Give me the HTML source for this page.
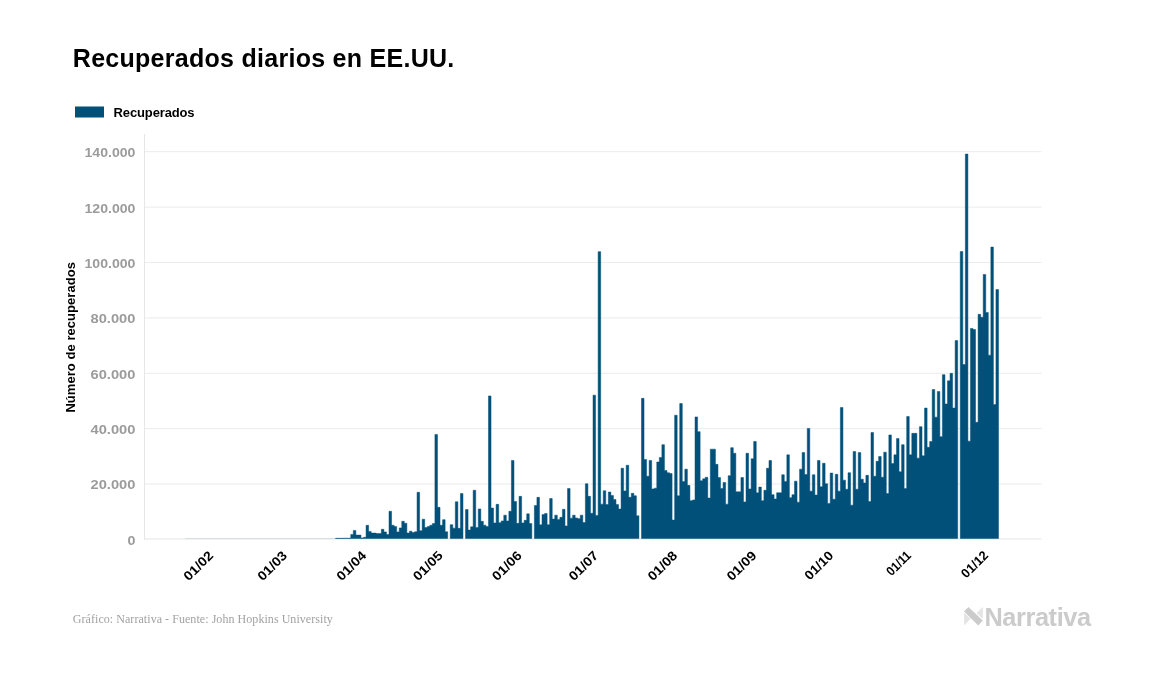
<!DOCTYPE html>
<html lang="es">
<head>
<meta charset="utf-8">
<title>Recuperados diarios en EE.UU.</title>
<style>
html,body{margin:0;padding:0;background:#fff;}
body{width:1157px;height:674px;overflow:hidden;font-family:"Liberation Sans",sans-serif;}
svg{display:block;}
.title{font:bold 25px "Liberation Sans",sans-serif;fill:#000;}
.legend{font:bold 13px "Liberation Sans",sans-serif;fill:#000;}
.ylab text{font:bold 13px "Liberation Sans",sans-serif;fill:#9b9b9b;}
.xlab text{font:bold 13px "Liberation Sans",sans-serif;fill:#000;}
.ytitle{font:bold 13px "Liberation Sans",sans-serif;fill:#000;}
.foot{font:12px "Liberation Serif",serif;fill:#a2a2a2;}
.logo{font:bold 25.3px "Liberation Sans",sans-serif;fill:#cbcbcb;}
</style>
</head>
<body>
<svg width="1157" height="674" viewBox="0 0 1157 674">
<rect width="1157" height="674" fill="#fff"/>
<text class="title" x="72.8" y="67.3" textLength="381.5" lengthAdjust="spacing">Recuperados diarios en EE.UU.</text>
<rect x="75" y="106.5" width="29" height="11" fill="#00507a"/>
<text class="legend" x="113.6" y="116.5" textLength="81" lengthAdjust="spacing">Recuperados</text>
<g class="grid">
<rect x="145" y="483.5" width="896.5" height="1" fill="#ececec"/>
<rect x="145" y="428.1" width="896.5" height="1" fill="#ececec"/>
<rect x="145" y="372.8" width="896.5" height="1" fill="#ececec"/>
<rect x="145" y="317.4" width="896.5" height="1" fill="#ececec"/>
<rect x="145" y="262.0" width="896.5" height="1" fill="#ececec"/>
<rect x="145" y="206.6" width="896.5" height="1" fill="#ececec"/>
<rect x="145" y="151.2" width="896.5" height="1" fill="#ececec"/>
<rect x="144" y="134" width="1" height="406" fill="#e6e6e6"/>
<rect x="144" y="538.5" width="897.5" height="1" fill="#e6e6e6"/>
</g>
<g class="ylab">
<text transform="translate(135.4,544.8) scale(1.1,1)" text-anchor="end">0</text>
<text transform="translate(135.4,489.4) scale(1.13,1)" text-anchor="end">20.000</text>
<text transform="translate(135.4,434.0) scale(1.13,1)" text-anchor="end">40.000</text>
<text transform="translate(135.4,378.7) scale(1.13,1)" text-anchor="end">60.000</text>
<text transform="translate(135.4,323.3) scale(1.13,1)" text-anchor="end">80.000</text>
<text transform="translate(135.4,267.9) scale(1.085,1)" text-anchor="end">100.000</text>
<text transform="translate(135.4,212.5) scale(1.085,1)" text-anchor="end">120.000</text>
<text transform="translate(135.4,157.1) scale(1.085,1)" text-anchor="end">140.000</text>
</g>
<text class="ytitle" transform="translate(75,412.6) rotate(-90)" textLength="150.5" lengthAdjust="spacing">Número de recuperados</text>
<rect x="185" y="538" width="150" height="0.8" fill="#cddae2"/>
<g fill="#00507a" stroke="#00507a" stroke-width="0.5" stroke-linejoin="miter">
<path d="M335.46,538.50V538.30H338.01V538.30H340.56V538.30H343.11V538.20H345.66V538.20H348.21V538.20H350.76V534.40H353.31V530.40H355.86V535.10H358.41V535.10H360.96V537.90H363.51V537.30H366.06V525.30H368.61V531.40H371.16V533.10H373.71V533.10H376.26V533.60H378.81V533.60H381.36V529.30H383.91V531.90H386.46V534.50H389.01V511.30H391.56V525.30H394.11V526.50H396.66V531.90H399.21V527.90H401.76V521.30H404.31V523.30H406.86V533.10H409.41V531.20H411.96V532.50H414.51V531.80H417.06V492.30H419.61V530.70H422.16V519.20H424.71V527.50H427.26V526.50H429.82V525.25H432.37V523.55H434.92V434.45H437.47V507.35H440.02V525.25H442.57V519.65H445.12V531.75H447.67V538.50Z"/>
<path d="M450.22,538.50V524.65H452.77V528.15H455.32V501.75H457.87V528.35H460.42V493.55H462.97V538.50Z"/>
<path d="M465.52,538.50V509.55H468.07V530.05H470.62V526.85H473.17V490.25H475.72V527.45H478.27V508.95H480.82V521.35H483.37V525.15H485.92V526.45H488.47V395.95H491.02V508.05H493.57V522.95H496.12V504.35H498.67V522.65H501.22V520.95H503.77V515.15H506.32V520.95H508.87V511.25H511.42V460.45H513.97V501.55H516.52V523.35H519.07V496.35H521.62V522.95H524.17V520.35H526.72V513.85H529.27V523.55H531.82V538.50Z"/>
<path d="M534.37,538.50V505.45H536.92V497.35H539.47V524.85H542.02V514.55H544.57V513.45H547.12V524.65H549.67V498.55H552.22V519.05H554.77V515.15H557.32V519.45H559.87V517.35H562.42V509.35H564.97V525.95H567.52V488.55H570.07V518.15H572.62V515.15H575.17V518.05H577.72V518.65H580.27V515.15H582.82V522.55H585.37V483.75H587.92V496.35H590.47V513.25H593.03V395.15H595.58V515.45H598.13V251.65H600.68V504.15H603.23V490.75H605.78V504.55H608.33V492.05H610.88V495.45H613.43V499.55H615.98V504.55H618.53V509.05H621.08V468.25H623.63V490.95H626.18V465.25H628.73V497.35H631.28V493.35H633.83V495.75H636.38V515.75H638.93V538.50Z"/>
<path d="M641.48,538.50V398.35H644.03V459.45H646.58V476.25H649.13V460.45H651.68V488.95H654.23V488.15H656.78V461.95H659.33V457.45H661.88V444.65H664.43V470.45H666.98V472.75H669.53V473.45H672.08V520.05H674.63V415.25H677.18V495.75H679.73V403.55H682.28V481.45H684.83V469.15H687.38V485.35H689.93V500.65H692.48V499.95H695.03V416.95H697.58V431.65H700.13V480.75H702.68V478.85H705.23V477.25H707.78V498.05H710.33V449.15H712.88V449.15H715.43V464.35H717.98V477.55H720.53V488.55H723.08V482.45H725.63V504.15H728.18V475.65H730.73V447.65H733.28V453.25H735.83V491.85H738.38V491.85H740.93V477.55H743.48V501.95H746.03V453.25H748.58V488.95H751.13V458.75H753.68V441.45H756.24V492.85H758.79V487.05H761.34V500.65H763.89V490.25H766.44V468.25H768.99V460.45H771.54V494.65H774.09V498.95H776.64V492.75H779.19V492.75H781.74V474.75H784.29V481.45H786.84V454.85H789.39V497.65H791.94V494.65H794.49V481.15H797.04V502.15H799.59V469.15H802.14V452.55H804.69V474.55H807.24V428.45H809.79V491.15H812.34V474.75H814.89V495.05H817.44V460.45H819.99V486.65H822.54V463.25H825.09V483.75H827.64V503.45H830.19V473.05H832.74V499.25H835.29V474.35H837.84V491.15H840.39V407.45H842.94V480.15H845.49V489.25H848.04V472.75H850.59V505.15H853.14V451.55H855.69V489.25H858.24V452.55H860.79V479.25H863.34V482.95H865.89V475.35H868.44V501.55H870.99V432.45H873.54V476.25H876.09V461.35H878.64V456.55H881.19V477.25H883.74V452.15H886.29V493.55H888.84V434.95H891.39V463.55H893.94V454.85H896.49V438.55H899.04V471.75H901.59V444.65H904.14V488.55H906.69V416.55H909.24V454.75H911.79V433.35H914.34V433.35H916.89V458.15H919.45V426.65H922.00V455.75H924.55V408.05H927.10V447.35H929.65V441.45H932.20V389.55H934.75V417.15H937.30V391.45H939.85V436.65H942.40V374.65H944.95V403.95H947.50V380.85H950.05V373.35H952.60V408.05H955.15V340.55H957.70V538.50Z"/>
<path d="M960.25,538.50V251.55H962.80V364.55H965.35V154.05H967.90V441.15H970.45V328.45H973.00V329.55H975.55V422.35H978.10V314.35H980.65V317.25H983.20V274.45H985.75V312.45H988.30V355.15H990.85V247.05H993.40V404.55H995.95V289.55H998.50V538.50Z"/>
</g>
<g class="xlab">
<text transform="translate(214.1,556.3) rotate(-45) scale(1.1,1)" text-anchor="end">01/02</text>
<text transform="translate(288.0,556.3) rotate(-45) scale(1.1,1)" text-anchor="end">01/03</text>
<text transform="translate(367.1,556.3) rotate(-45) scale(1.1,1)" text-anchor="end">01/04</text>
<text transform="translate(443.6,556.3) rotate(-45) scale(1.1,1)" text-anchor="end">01/05</text>
<text transform="translate(522.6,556.3) rotate(-45) scale(1.1,1)" text-anchor="end">01/06</text>
<text transform="translate(599.2,556.3) rotate(-45) scale(1.1,1)" text-anchor="end">01/07</text>
<text transform="translate(678.2,556.3) rotate(-45) scale(1.1,1)" text-anchor="end">01/08</text>
<text transform="translate(757.3,556.3) rotate(-45) scale(1.1,1)" text-anchor="end">01/09</text>
<text transform="translate(834.2,556.3) rotate(-45) scale(1.063,1)" text-anchor="end">01/10</text>
<text transform="translate(911.8,556.3) rotate(-45) scale(0.9,1)" text-anchor="end">01/11</text>
<text transform="translate(988.9,556.3) rotate(-45) scale(0.98,1)" text-anchor="end">01/12</text>
</g>
<text class="foot" x="72.8" y="623" textLength="260" lengthAdjust="spacing">Gráfico: Narrativa - Fuente: John Hopkins University</text>
<g>
<polygon points="964.1,612.7 964.1,625.4 970.6,618.8" fill="#e4e4e4"/>
<polygon points="982.8,606.9 982.8,618.9 976.6,613" fill="#e4e4e4"/>
<polygon points="968.4,606.9 982.8,620.5 978.2,625.4 964.1,611.6" fill="#cbcbcb"/>
<text class="logo" x="984.5" y="625.6" textLength="106.5" lengthAdjust="spacing">Narrativa</text>
</g>
</svg>
</body>
</html>
